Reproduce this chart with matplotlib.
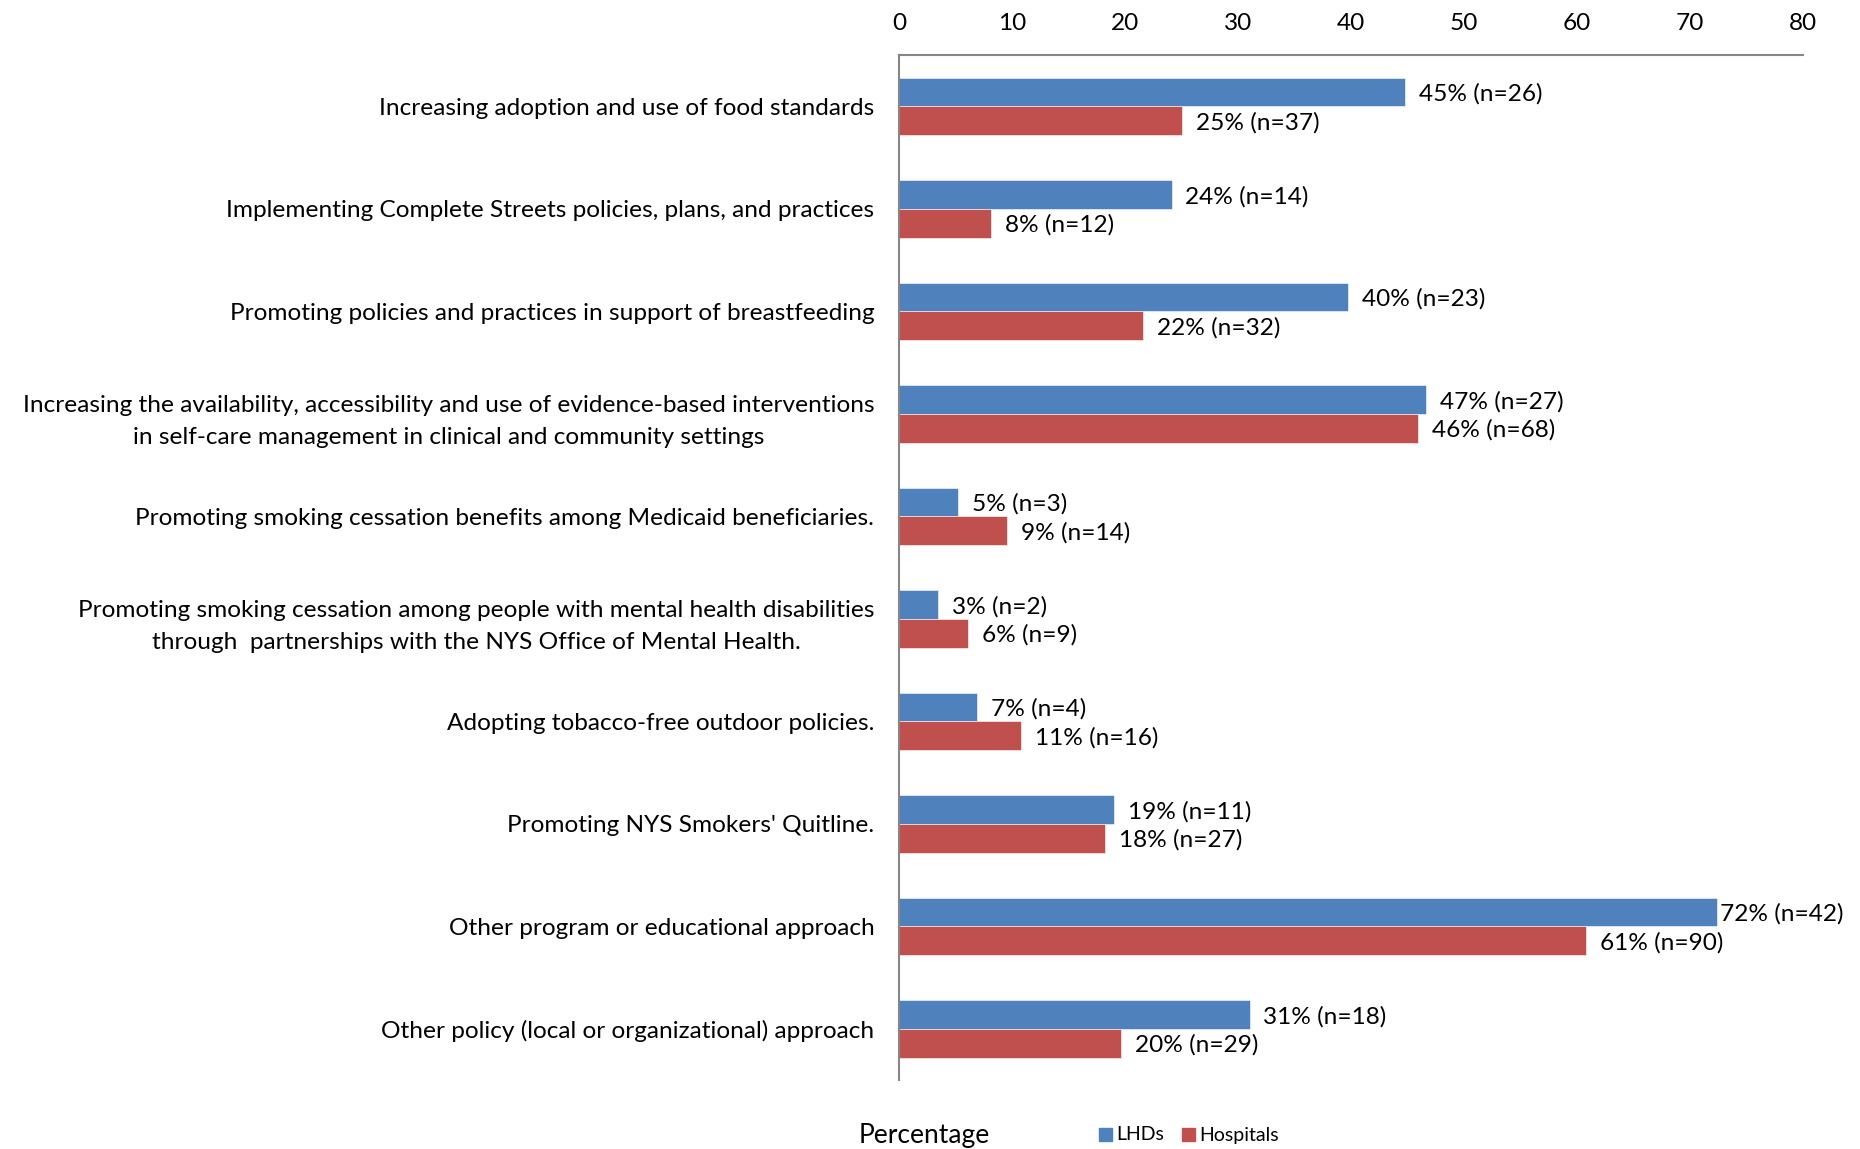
import matplotlib
matplotlib.use("Agg")
import matplotlib.pyplot as plt
import numpy as np

categories = [
    "Increasing adoption and use of food standards",
    "Implementing Complete Streets policies, plans, and practices",
    "Promoting policies and practices in support of breastfeeding",
    "Increasing the availability, accessibility and use of evidence-based interventions\nin self-care management in clinical and community settings",
    "Promoting smoking cessation benefits among Medicaid beneficiaries.",
    "Promoting smoking cessation among people with mental health disabilities\nthrough  partnerships with the NYS Office of Mental Health.",
    "Adopting tobacco-free outdoor policies.",
    "Promoting NYS Smokers' Quitline.",
    "Other program or educational approach",
    "Other policy (local or organizational) approach",
]
lhd_values = [44.8, 24.1, 39.7, 46.6, 5.2, 3.4, 6.9, 19.0, 72.4, 31.0]
hosp_values = [25.0, 8.1, 21.6, 45.9, 9.5, 6.1, 10.8, 18.2, 60.8, 19.6]
lhd_labels = ["45% (n=26)", "24% (n=14)", "40% (n=23)", "47% (n=27)", "5% (n=3)",
              "3% (n=2)", "7% (n=4)", "19% (n=11)", "72% (n=42)", "31% (n=18)"]
hosp_labels = ["25% (n=37)", "8% (n=12)", "22% (n=32)", "46% (n=68)", "9% (n=14)",
               "6% (n=9)", "11% (n=16)", "18% (n=27)", "61% (n=90)", "20% (n=29)"]
xticks = [0, 10, 20, 30, 40, 50, 60, 70, 80]

plt.rcParams['font.family'] = ['Lato', 'DejaVu Sans']
BLUE = "#4F81BD"
RED = "#C0504D"
FS = 17.6

fig = plt.figure(figsize=(18.6, 11.49), dpi=100)
ax = fig.add_axes([0.4835, 0.06, 0.4859, 0.892])

y = np.arange(len(categories))
h = 0.28
ax.barh(y - h / 2, lhd_values, height=h, color=BLUE, edgecolor="white", linewidth=0.4)
ax.barh(y + h / 2, hosp_values, height=h, color=RED, edgecolor="white", linewidth=0.4)


def label_offset(v):
    # labels near the right edge sit closer to the bar end (as in the source)
    return 2 if v > 70 else 10


for yi, v, t in zip(y, lhd_values, lhd_labels):
    ax.annotate(t, (v, yi - h / 2), xytext=(label_offset(v), -1.5), textcoords="offset points",
                va="center", ha="left", fontsize=FS, annotation_clip=False)
for yi, v, t in zip(y, hosp_values, hosp_labels):
    ax.annotate(t, (v, yi + h / 2), xytext=(label_offset(v), -1.5), textcoords="offset points",
                va="center", ha="left", fontsize=FS, annotation_clip=False)

ax.set_xlim(0, 80)
ax.set_ylim(len(categories) - 0.5, -0.5)
ax.set_xticks(xticks)
ax.set_xticklabels([str(v) for v in xticks], fontsize=FS)
ax.xaxis.tick_top()
ax.tick_params(axis="x", length=0, pad=15)
ax.set_yticks(y)
ax.set_yticklabels(categories, fontsize=FS, linespacing=1.68)
for lab in ax.get_yticklabels():
    lab.set_multialignment("center")
ax.tick_params(axis="y", length=0, pad=18)

for s in ["right", "bottom"]:
    ax.spines[s].set_visible(False)
for s in ["left", "top"]:
    ax.spines[s].set_color("#868686")
    ax.spines[s].set_linewidth(1.5)

fig.text(924 / 1860, 1 - 1135 / 1149, "Percentage", fontsize=19, ha="center", va="center")
fig.patches.append(plt.Rectangle((1099 / 1860, 1 - 1141 / 1149), 13 / 1860, 13 / 1149,
                                 transform=fig.transFigure, color=BLUE))
fig.text(1116 / 1860, 1 - 1135 / 1149, "LHDs", fontsize=14, ha="left", va="center")
fig.patches.append(plt.Rectangle((1182 / 1860, 1 - 1141 / 1149), 13 / 1860, 13 / 1149,
                                 transform=fig.transFigure, color=RED))
fig.text(1199 / 1860, 1 - 1135 / 1149, "Hospitals", fontsize=14, ha="left", va="center")

fig.savefig("out.png", dpi=100)
